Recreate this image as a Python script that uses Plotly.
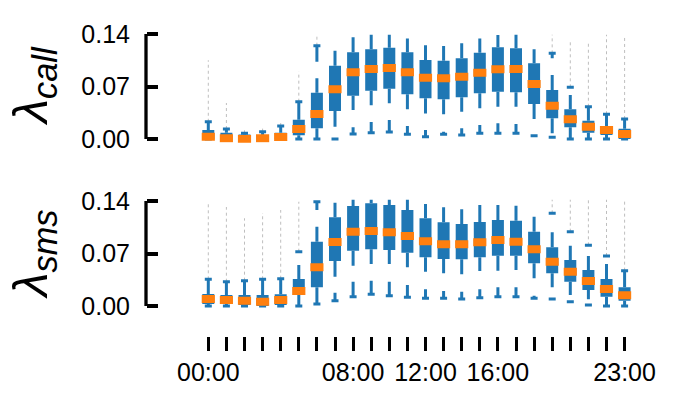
import plotly.graph_objects as go

BLUE = "#1f77b4"
ORANGE = "#ff7f0e"
FONT = "Liberation Sans"

hours = list(range(24))
tick_vals = [0, 8, 12, 16, 23]
tick_text = ["00:00", "08:00", "12:00", "16:00", "23:00"]
y_ticks = [0.0, 0.07, 0.14]
y_tick_text = ["0.00", "0.07", "0.14"]

# lambda_call, per hour
call_q1 = [0.0, 0.0, 0.0, 0.0, 0.0, 0.005, 0.0142, 0.0373, 0.0578, 0.0644, 0.0671, 0.0596,
           0.0542, 0.0529, 0.0556, 0.0609, 0.0631, 0.0622, 0.0467, 0.0276, 0.0156, 0.0084, 0.0053, 0.0]
call_med = [0.003, 0.001, 0.0, 0.001, 0.0027, 0.0133, 0.0333, 0.0662, 0.0891, 0.0933, 0.0947, 0.0889,
            0.0818, 0.0809, 0.0831, 0.0884, 0.0929, 0.0933, 0.0733, 0.0444, 0.0262, 0.0164, 0.012, 0.0067]
call_q3 = [0.012, 0.0084, 0.006, 0.0053, 0.0084, 0.0255, 0.0618, 0.0978, 0.1156, 0.1196, 0.1218, 0.1156,
           0.1053, 0.1044, 0.1076, 0.1151, 0.1222, 0.1209, 0.1009, 0.0653, 0.0396, 0.0244, 0.0173, 0.0138]
call_lo_end = [0.0, 0.0, 0.0, 0.0, 0.0, 0.0, 0.0, 0.0164, 0.0387, 0.045, 0.0476, 0.0396,
               0.034, 0.033, 0.0364, 0.041, 0.043, 0.043, 0.0267, 0.0076, 0.0, 0.0, 0.0, 0.0]
call_lo_cap = [0.0, 0.0, 0.0, 0.0, 0.0, 0.0, 0.0, 0.0, 0.0067, 0.0084, 0.0093, 0.0062,
               0.0031, 0.0062, 0.0053, 0.0076, 0.0076, 0.0076, 0.0044, 0.0022, 0.0, 0.0, 0.0, 0.0]
call_lo_stub = [0.0, 0.0, 0.0, 0.0, 0.0, 0.0, 0.0, 0.0, 0.0156, 0.0227, 0.0253, 0.0173,
                0.012, 0.0098, 0.0142, 0.0187, 0.0209, 0.02, 0.0044, 0.0022, 0.0, 0.0, 0.0, 0.0]
call_hi_end = [0.023, 0.0133, 0.0076, 0.0098, 0.0173, 0.0498, 0.0809, 0.1178, 0.1356, 0.139, 0.139, 0.134,
               0.125, 0.124, 0.1276, 0.134, 0.1387, 0.139, 0.1196, 0.0853, 0.0587, 0.0422, 0.033, 0.0267]
call_hi_cap = [0.023, 0.0133, 0.0076, 0.0098, 0.0173, 0.0498, 0.1244, None, None, None, None, None,
               None, None, None, None, None, None, None, 0.1142, 0.0689, 0.043, 0.033, 0.0267]
call_hi_stub = [0.023, 0.0133, 0.0076, 0.0098, 0.0173, 0.0498, 0.1031, None, None, None, None, None,
                None, None, None, None, None, None, None, 0.1076, 0.0689, 0.043, 0.033, 0.0267]
call_fl_top = [0.105, 0.048, 0.012, 0.017, 0.025, 0.09, 0.1387, None, None, None, None, None,
               None, None, None, None, None, None, None, 0.139, 0.131, 0.1276, 0.139, 0.136]

# lambda_sms, per hour
sms_q1 = [0.0027, 0.0027, 0.0013, 0.0, 0.0013, 0.0147, 0.0249, 0.06, 0.0738, 0.0756, 0.0747, 0.0711,
          0.0649, 0.0627, 0.0622, 0.0649, 0.0671, 0.0671, 0.0569, 0.0436, 0.0324, 0.0213, 0.0124, 0.0071]
sms_med = [0.0093, 0.008, 0.0071, 0.0058, 0.008, 0.02, 0.0516, 0.0853, 0.0991, 0.1, 0.0982, 0.0933,
           0.0862, 0.0822, 0.0822, 0.0849, 0.088, 0.0858, 0.0756, 0.0591, 0.0458, 0.0333, 0.0227, 0.0142]
sms_q3 = [0.016, 0.0147, 0.0147, 0.0147, 0.0156, 0.036, 0.0858, 0.1182, 0.1333, 0.1369, 0.1347, 0.128,
          0.1169, 0.1116, 0.1093, 0.112, 0.1147, 0.1138, 0.0991, 0.0782, 0.0613, 0.048, 0.036, 0.0249]
sms_lo_end = [0.0, 0.0, 0.0, 0.0, 0.0, 0.0, 0.0036, 0.0391, 0.0538, 0.056, 0.056, 0.0516,
              0.0458, 0.0436, 0.0422, 0.0467, 0.0471, 0.048, 0.0369, 0.0249, 0.0147, 0.0089, 0.0, 0.0]
sms_lo_cap = [0.0, 0.0, 0.0, 0.0, 0.0, 0.0, 0.0027, 0.0071, 0.0124, 0.0156, 0.0138, 0.0116,
              0.0102, 0.0102, 0.0093, 0.0111, 0.0124, 0.0124, 0.0102, 0.0093, 0.0058, 0.0013, 0.0, 0.0]
sms_lo_stub = [0.0, 0.0, 0.0, 0.0, 0.0, 0.0, 0.0027, 0.0178, 0.0324, 0.0338, 0.0324, 0.028,
               0.0222, 0.02, 0.0191, 0.0222, 0.0249, 0.0249, 0.0138, 0.0093, 0.0058, 0.0013, 0.0, 0.0]
sms_hi_end = [0.0356, 0.0324, 0.0338, 0.0356, 0.0364, 0.0547, 0.1058, 0.1378, 0.142, 0.142, 0.142, 0.142,
              0.136, 0.1316, 0.1289, 0.1347, 0.1347, 0.1338, 0.1191, 0.0982, 0.0804, 0.0667, 0.056, 0.0471]
sms_hi_cap = [0.0356, 0.0324, 0.0338, 0.0356, 0.0364, 0.0724, 0.139, None, None, None, None, None,
              None, None, None, None, None, None, None, 0.1236, 0.0991, 0.0809, 0.0667, 0.0471]
sms_hi_stub = [0.0356, 0.0324, 0.0338, 0.0356, 0.0364, 0.0724, 0.128, None, None, None, None, None,
               None, None, None, None, None, None, None, 0.1236, 0.0991, 0.0809, 0.0667, 0.0471]
sms_fl_top = [0.139, 0.132, 0.117, 0.124, 0.128, 0.139, None, None, None, None, None, None,
              None, None, None, None, None, None, None, 0.142, 0.142, 0.142, 0.142, 0.142]


def segs(pairs):
    xs, ys = [], []
    for h, a, b in pairs:
        if a is None or b is None or a == b:
            continue
        xs += [h, h, None]
        ys += [a, b, None]
    return xs, ys


def add_panel(fig, xa, ya, q1, med, q3, lo_end, lo_cap, lo_stub, hi_end, hi_cap, hi_stub, fl_top):
    # outliers (dotted columns above the top cap)
    fx, fy = segs([(h, hi_cap[h] if hi_cap[h] is not None else hi_end[h], fl_top[h]) for h in hours])
    fig.add_trace(go.Scatter(x=fx, y=fy, mode="lines", xaxis=xa, yaxis=ya,
                             line=dict(color="rgba(40,40,40,0.3)", width=1, dash="dot")))
    # whiskers
    pairs = []
    for h in hours:
        pairs.append((h, q1[h], lo_end[h]))
        pairs.append((h, lo_stub[h], lo_cap[h]))
        pairs.append((h, q3[h], hi_end[h]))
        pairs.append((h, hi_stub[h], hi_cap[h]))
    wx, wy = segs(pairs)
    fig.add_trace(go.Scatter(x=wx, y=wy, mode="lines", xaxis=xa, yaxis=ya,
                             line=dict(color=BLUE, width=3)))
    # boxes
    bx, by = segs([(h, q1[h], q3[h]) for h in hours])
    fig.add_trace(go.Scatter(x=bx, y=by, mode="lines", xaxis=xa, yaxis=ya,
                             line=dict(color=BLUE, width=12)))
    # caps
    cx = [h for h in hours] + [h for h in hours if hi_cap[h] is not None]
    cy = list(lo_cap) + [hi_cap[h] for h in hours if hi_cap[h] is not None]
    fig.add_trace(go.Scatter(x=cx, y=cy, mode="markers", xaxis=xa, yaxis=ya,
                             marker=dict(symbol="line-ew", size=5, line=dict(color=BLUE, width=3))))
    # medians
    fig.add_trace(go.Scatter(x=hours, y=med, mode="markers", xaxis=xa, yaxis=ya,
                             marker=dict(symbol="line-ew", size=9.4, line=dict(color=ORANGE, width=8))))


fig = go.Figure()
add_panel(fig, "x", "y", call_q1, call_med, call_q3, call_lo_end, call_lo_cap, call_lo_stub,
          call_hi_end, call_hi_cap, call_hi_stub, call_fl_top)
add_panel(fig, "x2", "y2", sms_q1, sms_med, sms_q3, sms_lo_end, sms_lo_cap, sms_lo_stub,
          sms_hi_end, sms_hi_cap, sms_hi_stub, sms_fl_top)

# page body adds an 8px offset; figure is sized to fit the window
OFF = 8
W, H = 678 - OFF, 394 - OFF


def px(sx):
    return (sx - OFF) / W


def py(sy):
    return 1 - (sy - OFF) / H


xdom = [px(181.15), px(642.7)]
ypos = px(146)
yrange = [-0.005, 0.142]
yax = dict(range=yrange, anchor="free", position=ypos, showgrid=False, zeroline=False,
           showline=False, automargin=False, tickvals=y_ticks, ticktext=y_tick_text, ticks="inside",
           ticklen=11, tickwidth=3.5, tickcolor="black", ticklabelstandoff=16,
           tickfont=dict(size=25, color="black", family=FONT))

fig.update_layout(
    template="none",
    width=W, height=H, margin=dict(l=0, r=0, t=0, b=0, autoexpand=False),
    paper_bgcolor="white", plot_bgcolor="white", showlegend=False,
    font=dict(family=FONT, color="black"),
    xaxis=dict(domain=xdom, range=[-1.5, 24], anchor="y", visible=False, automargin=False),
    yaxis=dict(domain=[py(142.75), py(32.5)], **yax),
    xaxis2=dict(domain=xdom, range=[-1.5, 24], anchor="free", position=py(336),
                showgrid=False, zeroline=False, showline=False, automargin=False,
                tickvals=tick_vals, ticktext=tick_text,
                ticks="outside", ticklen=14, tickwidth=3, tickcolor="black",
                minor=dict(tickmode="array", tickvals=hours, ticks="outside", ticklen=14,
                           tickwidth=3, tickcolor="black", showgrid=False),
                tickfont=dict(size=25, color="black", family=FONT)),
    yaxis2=dict(domain=[py(309.75), py(199.5)], **yax),
)

# spines trimmed to the tick range
for yr in ["y", "y2"]:
    fig.add_shape(type="line", xref="paper", yref=yr, x0=ypos, x1=ypos, y0=y_ticks[0], y1=y_ticks[-1],
                  line=dict(color="black", width=3.3))

fig.add_annotation(text="<i>λ<sub>call</sub></i>", xref="paper", yref="paper", x=px(33), y=py(86),
                   showarrow=False, textangle=-90, xanchor="center", yanchor="middle",
                   font=dict(size=49, family=FONT, color="black"))
fig.add_annotation(text="<i>λ<sub>sms</sub></i>", xref="paper", yref="paper", x=px(33), y=py(254.5),
                   showarrow=False, textangle=-90, xanchor="center", yanchor="middle",
                   font=dict(size=49, family=FONT, color="black"))

fig.write_html("out.html")
